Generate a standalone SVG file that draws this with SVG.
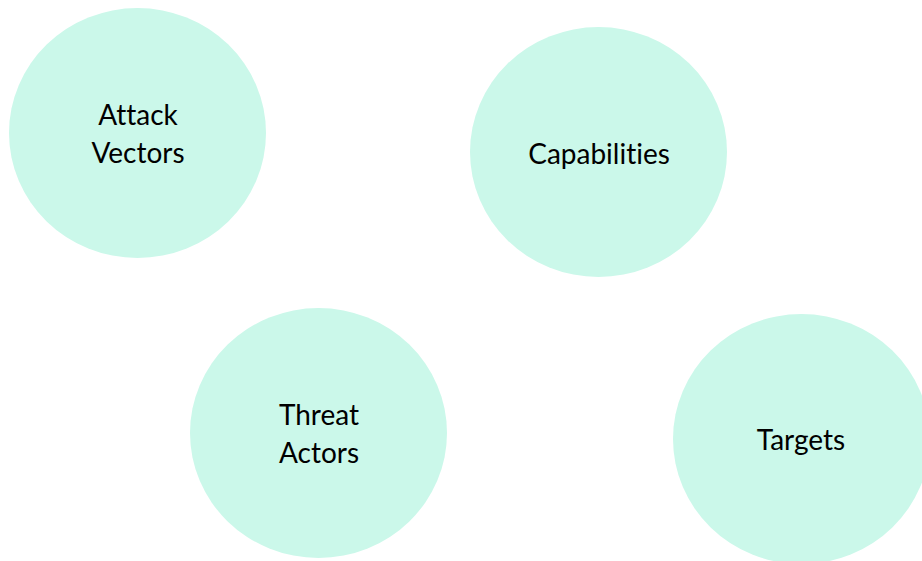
<svg xmlns="http://www.w3.org/2000/svg" width="922" height="561" viewBox="0 0 922 561">
<style>
.n{fill:#CBF8EA;stroke:none}
.t{font-family:Lato,"Open Sans","Liberation Sans",sans-serif;font-size:28px;fill:#000;text-anchor:middle;font-variant-ligatures:none;font-feature-settings:"liga" 0}
</style>
<rect width="922" height="561" fill="#fff"/>
<g id="connectors"></g>
<g id="attack-vectors"><ellipse class="n" cx="137.5" cy="133" rx="128.5" ry="125"/><text class="t" x="138" y="125">Attack</text><text class="t" x="138" y="163">Vectors</text></g>
<g id="capabilities"><ellipse class="n" cx="598.5" cy="152" rx="128.5" ry="125"/><text class="t" x="599" y="164">Capabilities</text></g>
<g id="threat-actors"><ellipse class="n" cx="318.5" cy="433" rx="128.5" ry="125"/><text class="t" x="319" y="425">Threat</text><text class="t" x="319" y="463">Actors</text></g>
<g id="targets"><ellipse class="n" cx="801.5" cy="439" rx="128.5" ry="125"/><text class="t" x="801" y="450">Targets</text></g>
</svg>
